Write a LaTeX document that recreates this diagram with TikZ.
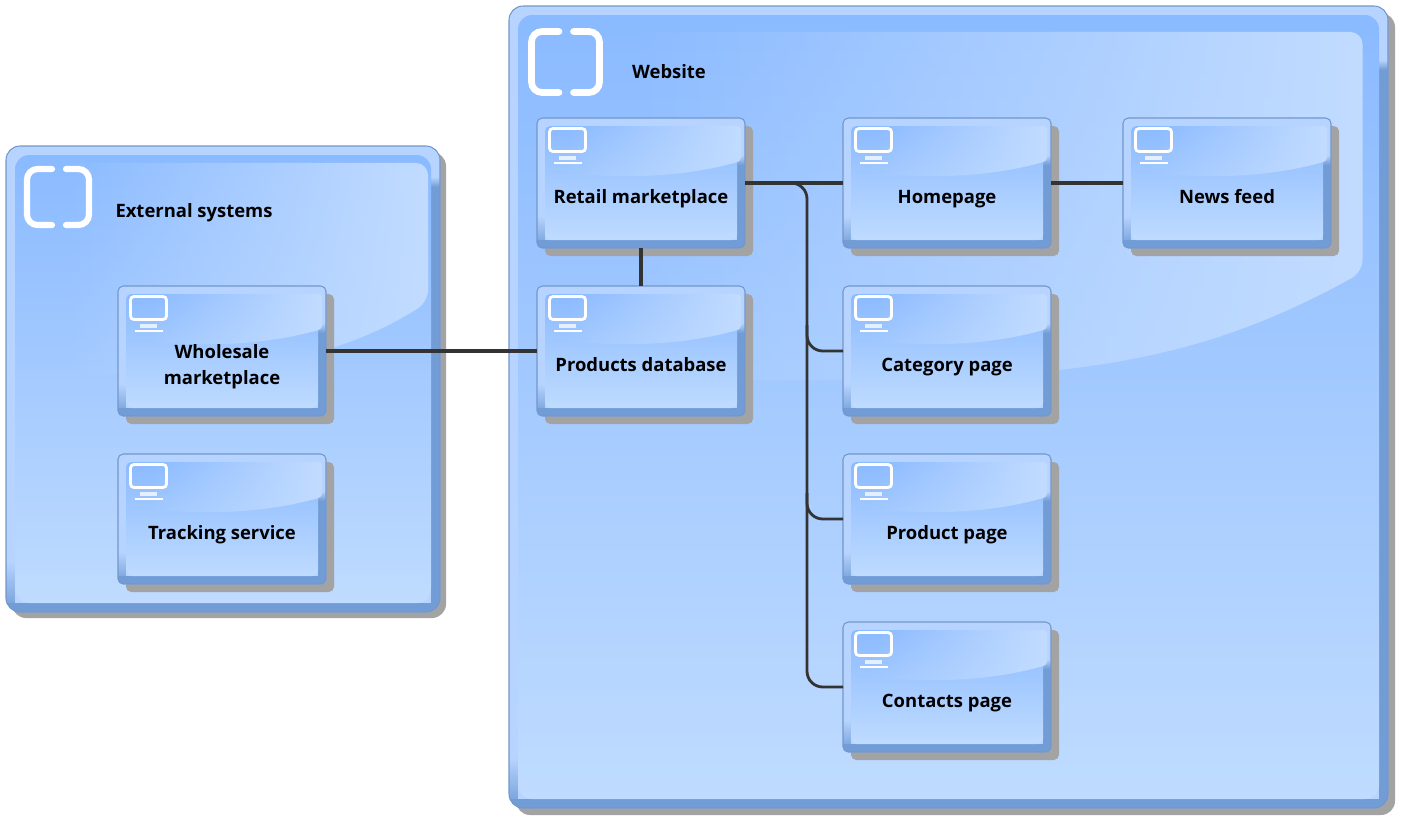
\documentclass[tikz,border=0pt]{standalone}
\usepackage{fontspec}
\setmainfont{Open Sans}
\usetikzlibrary{fadings}
\definecolor{shadowgray}{HTML}{A3A3A3}
\definecolor{framelight}{HTML}{B6D4FF}
\definecolor{framedark}{HTML}{719CD6}
\definecolor{frameline}{HTML}{7397CB}
\definecolor{paneltop}{HTML}{8ABAFF}
\definecolor{panelbottom}{HTML}{BFDBFF}
\definecolor{sheencolor}{HTML}{C2DCFF}
\definecolor{linkgray}{HTML}{333333}
\tikzfading[name=sheenfade,left color=transparent!100,right color=transparent!0]
\tikzfading[name=cornerfade,top color=transparent!100,bottom color=transparent!0]
\newcommand{\labelstrut}{\rule[-4pt]{0pt}{12pt}}
\tikzset{
	framenode/.style={draw=frameline,line width=0.6pt,inner sep=0pt,outer sep=0pt},
	boxlabel/.style={font=\fontsize{10.5}{15.3}\selectfont\bfseries,align=center,text=black,inner sep=0pt},
	grouplabel/.style={boxlabel},
	sheen/.style={fill=sheencolor,path fading=sheenfade},
	link/.style={draw=linkgray,line width=1.8pt},
	buslink/.style={draw=linkgray,line width=1.6pt,rounded corners=9pt},
	screen/.style={draw=white,line width=1.6pt,rounded corners=2pt},
	bracket/.style={draw=white,line width=3.8pt,line cap=round,rounded corners=6pt}
}
% name, width, height, inset, radius, start of dark right edge, shadow offset, left fade
\newcommand{\glassframe}[8]{
	\fill[shadowgray,rounded corners=#5] (#7,#7) rectangle (#2+#7,#3+#7);
	\fill[framelight,rounded corners=#5] (0,0) rectangle (#2,#3);
	\begin{scope}
		\clip[rounded corners=#5] (0,0) rectangle (#2,#3);
		\fill[framedark,path fading=cornerfade] (#2-#4,#6-10) rectangle (#2,#6);
		\fill[framedark] (#2-#4,#6) rectangle (#2,#3);
		\fill[framedark] (0,#3-#4) rectangle (#2,#3);
		\fill[framedark,path fading=cornerfade] (0,#3-#8) rectangle (#4,#3);
	\end{scope}
	\shade[top color=paneltop,bottom color=panelbottom,rounded corners=#5] (#4,#4) rectangle (#2-#4,#3-#4);
	\node[framenode,rounded corners=#5,minimum width=#2*0.02cm,minimum height=#3*0.02cm] (#1) at ({#2/2},{#3/2}) {};
}
% name, x, y, text
\newcommand{\appbox}[4]{
	\begin{scope}[shift={(#2,#3)}]
		\glassframe{#1}{208}{130}{8}{3pt}{47}{8}{32}
		\fill[sheen,rounded corners=2pt] (30,8) -- (204,8) -- (204,43) .. controls (165,54) and (125,59) .. (75,58) -- (30,56) -- cycle;
		% Screen
		\draw[screen] (12.5,10.5) rectangle (48.5,33.5);
		\fill[white,opacity=0.75] (22,38) rectangle (39,42);
		\fill[white] (17,43.5) rectangle (45,46);
		\node[boxlabel] (#1text) at (104,82) {\labelstrut #4\labelstrut};
	\end{scope}
}
\begin{document}
\begin{tikzpicture}[x=0.02cm,y=-0.02cm]
	\useasboundingbox (0,0) rectangle (1402,823);
	% External systems
	\begin{scope}[shift={(6,146)}]
		\glassframe{external}{434}{466}{9}{8pt}{41}{6}{50}
		\fill[sheen,rounded corners=7pt] (60,17) -- (422,17) -- (422,156) .. controls (360,195) and (300,215) .. (200,225) -- (60,230) -- cycle;
		\draw[bracket,line width=3.5pt] (46,23) -- (21,23) -- (21,79) -- (46,79);
		\draw[bracket,line width=3.5pt] (60,23) -- (83,23) -- (83,79) -- (60,79);
		\node[grouplabel] (externaltext) at (188,68) {\labelstrut External systems};
	\end{scope}
	% Website
	\begin{scope}[shift={(509,6)}]
		\glassframe{website}{879}{802}{9}{8pt}{64}{7}{50}
		\fill[sheen,rounded corners=7pt] (120,26) -- (854,26) -- (854,266) .. controls (720,340) and (620,362) .. (450,372) -- (120,376) -- cycle;
		\draw[bracket] (50,25.5) -- (22.5,25.5) -- (22.5,86.5) -- (50,86.5);
		\draw[bracket] (64.5,25.5) -- (90.5,25.5) -- (90.5,86.5) -- (64.5,86.5);
		\node[grouplabel] (websitetext) at (160,69) {\labelstrut Website};
	\end{scope}
	% Applications
	\appbox{wholesale}{118}{286}{Wholesale\\marketplace}
	\appbox{tracking}{118}{454}{Tracking service}
	\appbox{retail}{537}{118}{Retail marketplace}
	\appbox{products}{537}{286}{Products database}
	\appbox{homepage}{843}{118}{Homepage}
	\appbox{newsfeed}{1123}{118}{News feed}
	\appbox{category}{843}{286}{Category page}
	\appbox{product}{843}{454}{Product page}
	\appbox{contacts}{843}{622}{Contacts page}
	% Links
	\coordinate (bus) at (807,183);
	\coordinate (categoryjoin) at (807,325);
	\coordinate (productjoin) at (807,493);
	\draw[link] (retail) -- (products);
	\draw[link] (retail.east) -- (homepage.west);
	\draw[link] (homepage.east) -- (newsfeed.west);
	\draw[link] (wholesale.east) -- (products.west);
	\draw[buslink] (retail.east) -- (bus) |- (contacts.west);
	\draw[buslink] (categoryjoin) |- (category.west);
	\draw[buslink] (productjoin) |- (product.west);
\end{tikzpicture}
\end{document}
